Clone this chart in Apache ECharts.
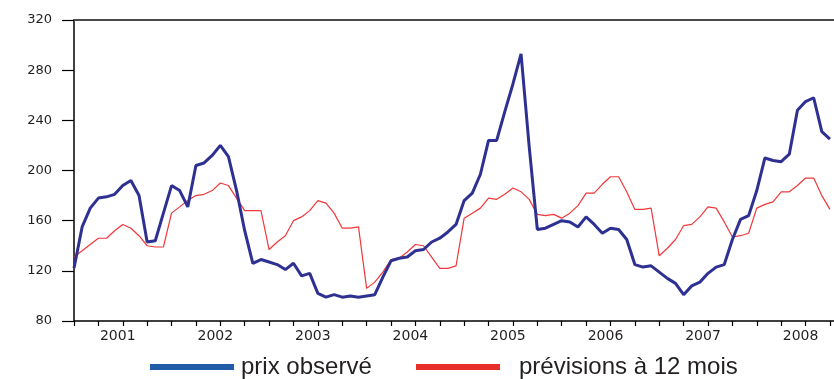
<!DOCTYPE html>
<html>
<head>
<meta charset="utf-8">
<script src="https://cdn.jsdelivr.net/npm/echarts@6/dist/echarts.min.js"></script>
<style>html,body{margin:0;padding:0;background:#fff;}#c{width:834px;height:379px;}</style>
</head>
<body>
<div id="c"></div>
<script>
// Monthly series, January 2001 to October 2008
const startYear = 2001;
const yearLabels = ['2001','2002','2003','2004','2005','2006','2007','2008'];
const yTicks = [80, 120, 160, 200, 240, 280, 320];
const seriesNames = ['prix observé', 'prévisions à 12 mois'];
const observed = [
  122,155,170,178,179,181,188,192,180,143,144,166,
  188,184,171,204,206,212,220,211,184,152,126,129,
  127,125,121,126,116,118,102,99,101,99,100,99,
  100,101,115,128,130,131,136,137,143,146,151,157,
  176,182,197,224,224,247,269,293,219,153,154,157,
  160,159,155,163,157,150,154,153,145,125,123,124,
  119,114,110,101,108,111,118,123,125,145,161,164,
  184,210,208,207,213,248,255,258,231,225
];
const forecast = [
  131,136,141,146,146,152,157,154,148,140,139,139,
  166,171,176,180,181,184,190,188,178,168,168,168,
  137,143,148,160,163,168,176,174,166,154,154,155,
  106,111,119,129,130,135,141,140,131,122,122,124,
  162,166,170,178,177,181,186,183,177,165,164,165,
  162,166,172,182,182,189,195,195,183,169,169,170,
  132,138,145,156,157,163,171,170,159,147,148,150,
  170,173,175,183,183,188,194,194,180,169
];

const chart = echarts.init(document.getElementById('c'), null, {renderer: 'canvas'});
const toPairs = arr => arr.map((v, i) => [i, v]);
const textCol = '#231F20';

chart.setOption({
  animation: false,
  backgroundColor: '#ffffff',
  grid: {left: 74, right: 0, top: 20, bottom: 58, containLabel: false},
  legend: [
    {
      left: 145, top: 350, icon: 'rect', itemWidth: 84, itemHeight: 6, itemGap: 40,
      textStyle: {fontFamily: 'Liberation Sans', fontSize: 24, color: textCol, padding: [0,0,0,2]},
      data: [{name: seriesNames[0], itemStyle: {color: '#1F5CA8'}}]
    },
    {
      left: 411, top: 350, icon: 'rect', itemWidth: 84, itemHeight: 6,
      textStyle: {fontFamily: 'Liberation Sans', fontSize: 24, color: textCol, padding: [0,0,0,14]},
      data: [{name: seriesNames[1], itemStyle: {color: '#E8302A'}}]
    }
  ],
  xAxis: [
    {
      type: 'value', min: 0, max: 93.5, interval: 3, position: 'bottom',
      axisLine: {show: true, onZero: false, lineStyle: {color: '#000', width: 1.5}},
      axisTick: {show: true, length: 5, lineStyle: {color: '#000', width: 1.2}},
      splitLine: {show: false},
      axisLabel: {
        show: true, margin: 8, showMinLabel: true, showMaxLabel: false,
        fontFamily: 'DejaVu Sans', fontSize: 14, color: textCol, padding: [0, 10, 0, 0],
        formatter: function (v) {
          if (Math.round(v) % 12 === 6) {
            const k = Math.round((v - 6) / 12);
            return yearLabels[k] || '';
          }
          return '';
        }
      }
    },
    {
      type: 'value', min: 0, max: 93.5, position: 'top',
      axisLine: {show: true, onZero: false, lineStyle: {color: '#4a4a4a', width: 2}},
      axisTick: {show: false}, axisLabel: {show: false}, splitLine: {show: false}
    }
  ],
  yAxis: {
    type: 'value', min: 80, max: 320, interval: 40,
    axisLine: {show: true, onZero: false, lineStyle: {color: '#000', width: 1.5}},
    axisTick: {show: true, length: 12, lineStyle: {color: '#000', width: 1.2}},
    splitLine: {show: false},
    axisLabel: {margin: 22, fontFamily: 'DejaVu Sans', fontSize: 13, color: textCol}
  },
  series: [
    {
      name: seriesNames[0], type: 'line', data: toPairs(observed), showSymbol: false,
      lineStyle: {color: '#2E3192', width: 3}, itemStyle: {color: '#2E3192'}, z: 3
    },
    {
      name: seriesNames[1], type: 'line', data: toPairs(forecast), showSymbol: false,
      lineStyle: {color: '#F0373A', width: 1.2}, itemStyle: {color: '#F0373A'}, z: 2
    }
  ]
});
</script>
</body>
</html>
